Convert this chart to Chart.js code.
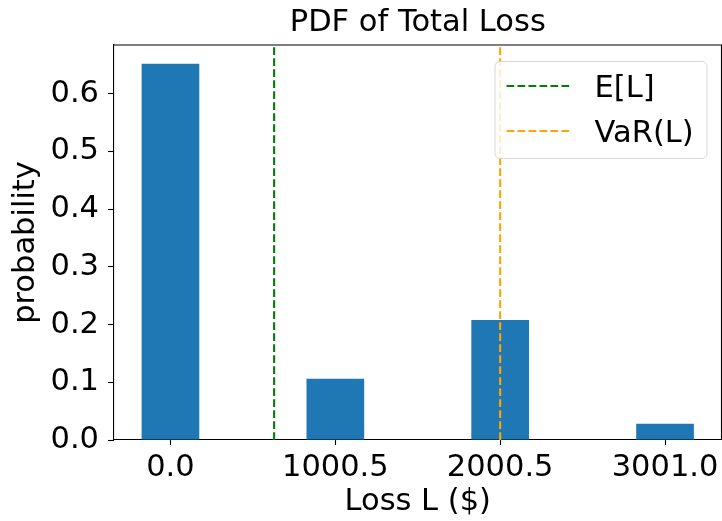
<!DOCTYPE html>
<html>
<head>
<meta charset="utf-8">
<script src="https://cdn.jsdelivr.net/npm/chart.js@4.4.0/dist/chart.umd.min.js"></script>
<style>
  html, body { margin: 0; padding: 0; background: #ffffff; }
  canvas { display: block; }
</style>
</head>
<body>
<canvas id="chart" width="722" height="521"></canvas>
<script>
// ---- data ----
const lossValues    = [0.0, 1000.5, 2000.5, 3001.0];
const probabilities = [0.652, 0.106, 0.208, 0.028];
const xTickValues   = [0.0, 1000.5, 2000.5, 3001.0];
const xTickLabels   = ['0.0', '1000.5', '2000.5', '3001.0'];
const yTickValues   = [0.0, 0.1, 0.2, 0.3, 0.4, 0.5, 0.6];
const yTickLabels   = ['0.0', '0.1', '0.2', '0.3', '0.4', '0.5', '0.6'];
const expectedLoss  = 629;
const valueAtRisk   = 2000.5;
const barWidth      = 350;
const lineLabels    = ['E[L]', 'VaR(L)'];

// ---- axis limits (matplotlib-style 5% margins) ----
const xLo = lossValues[0] - barWidth / 2;
const xHi = lossValues[lossValues.length - 1] + barWidth / 2;
const xMin = xLo - 0.05 * (xHi - xLo);
const xMax = xHi + 0.05 * (xHi - xLo);
const yMax = Math.max(...probabilities) * 1.05;

let minGap = Infinity;
for (let i = 1; i < lossValues.length; i++) minGap = Math.min(minGap, lossValues[i] - lossValues[i - 1]);

const FS = 30.5;
const FONT = { family: 'DejaVu Sans', size: FS, weight: 'normal', lineHeight: 1.2 };
Chart.defaults.font.family = 'DejaVu Sans';
Chart.defaults.color = '#000000';

const DASH = [7.7, 3.3];
const GREEN = '#008000';
const ORANGE = '#FFA500';

const framePlugin = {
  id: 'frame',
  afterDatasetsDraw(chart) {
    const { ctx, chartArea: a } = chart;
    ctx.save();
    ctx.strokeStyle = '#000000';
    ctx.lineWidth = 1.1;
    ctx.beginPath();
    ctx.moveTo(a.left, a.top);
    ctx.lineTo(a.right, a.top);
    ctx.lineTo(a.right, a.bottom);
    ctx.stroke();
    ctx.restore();
  }
};

const legendPlugin = {
  id: 'mplLegend',
  afterDraw(chart) {
    const { ctx, chartArea: a } = chart;
    const bx = a.right - 227, by = a.top + 16, bw = 212, bh = 97;
    ctx.save();
    ctx.beginPath();
    ctx.roundRect(bx + 0.5, by + 0.5, bw, bh, 5);
    ctx.fillStyle = 'rgba(255,255,255,0.8)';
    ctx.fill();
    ctx.strokeStyle = '#d6d6d6';
    ctx.lineWidth = 1;
    ctx.stroke();
    const items = chart.data.datasets.filter(d => d.type === 'line');
    items.forEach((d, i) => {
      const y = by + 25 + i * 45;
      ctx.beginPath();
      ctx.setLineDash(DASH);
      ctx.strokeStyle = d.borderColor;
      ctx.lineWidth = 2;
      ctx.moveTo(bx + 12, y);
      ctx.lineTo(bx + 75, y);
      ctx.stroke();
      ctx.setLineDash([]);
      ctx.fillStyle = '#000000';
      ctx.font = FS + 'px "DejaVu Sans"';
      ctx.textBaseline = 'alphabetic';
      ctx.textAlign = 'left';
      ctx.fillText(d.label, bx + 100, y + 11);
    });
    ctx.restore();
  }
};

new Chart(document.getElementById('chart'), {
  type: 'bar',
  data: {
    datasets: [
      {
        type: 'bar',
        label: 'probability',
        data: lossValues.map((x, i) => ({ x: x, y: probabilities[i] })),
        backgroundColor: '#1f77b4',
        borderWidth: 0,
        barPercentage: barWidth / minGap,
        categoryPercentage: 1.0,
        order: 2
      },
      {
        type: 'line',
        label: lineLabels[0],
        data: [{ x: expectedLoss, y: 0 }, { x: expectedLoss, y: yMax }],
        borderColor: GREEN,
        borderWidth: 2.1,
        borderDash: DASH,
        pointRadius: 0,
        fill: false,
        order: 1
      },
      {
        type: 'line',
        label: lineLabels[1],
        data: [{ x: valueAtRisk, y: 0 }, { x: valueAtRisk, y: yMax }],
        borderColor: ORANGE,
        borderWidth: 2.1,
        borderDash: DASH,
        pointRadius: 0,
        fill: false,
        order: 1
      }
    ]
  },
  options: {
    responsive: false,
    animation: false,
    devicePixelRatio: 1,
    layout: { padding: { left: 0, right: 0.5, top: 0, bottom: 0 } },
    plugins: {
      legend: { display: false },
      tooltip: { enabled: false },
      title: {
        display: true,
        text: 'PDF of Total Loss',
        color: '#000000',
        font: FONT,
        fullSize: false,
        padding: { top: 4.45, bottom: 3.95 }
      }
    },
    scales: {
      x: {
        type: 'linear',
        min: xMin,
        max: xMax,
        offset: false,
        grid: { display: true, offset: false, drawOnChartArea: false, drawTicks: true, tickLength: 5, color: '#000000', tickWidth: 1.1 },
        border: { display: true, color: '#000000', width: 1.1 },
        ticks: {
          font: FONT,
          color: '#000000',
          padding: 4.35,
          autoSkip: false,
          maxRotation: 0,
          callback: (v, i) => xTickLabels[i]
        },
        afterBuildTicks: s => { s.ticks = xTickValues.map(v => ({ value: v })); },
        afterFit: s => { s.height = 81; s.paddingRight = 0; s.paddingLeft = 0; },
        title: { display: true, text: 'Loss L ($)', color: '#000000', font: FONT, padding: { top: 0, bottom: 0.55 } }
      },
      y: {
        type: 'linear',
        min: 0,
        max: yMax,
        grid: { display: true, offset: false, drawOnChartArea: false, drawTicks: true, tickLength: 6, color: '#000000', tickWidth: 1.1 },
        border: { display: true, color: '#000000', width: 1.1 },
        ticks: {
          font: FONT,
          color: '#000000',
          padding: 9,
          callback: (v, i) => yTickLabels[i]
        },
        afterBuildTicks: s => { s.ticks = yTickValues.map(v => ({ value: v })); },
        afterFit: s => { s.width = 114; s.paddingTop = 0; s.paddingBottom = 0; },
        title: { display: true, text: 'probability', color: '#000000', font: FONT, padding: { top: 7.95, bottom: 0 } }
      }
    }
  },
  plugins: [framePlugin, legendPlugin]
});
</script>
</body>
</html>
